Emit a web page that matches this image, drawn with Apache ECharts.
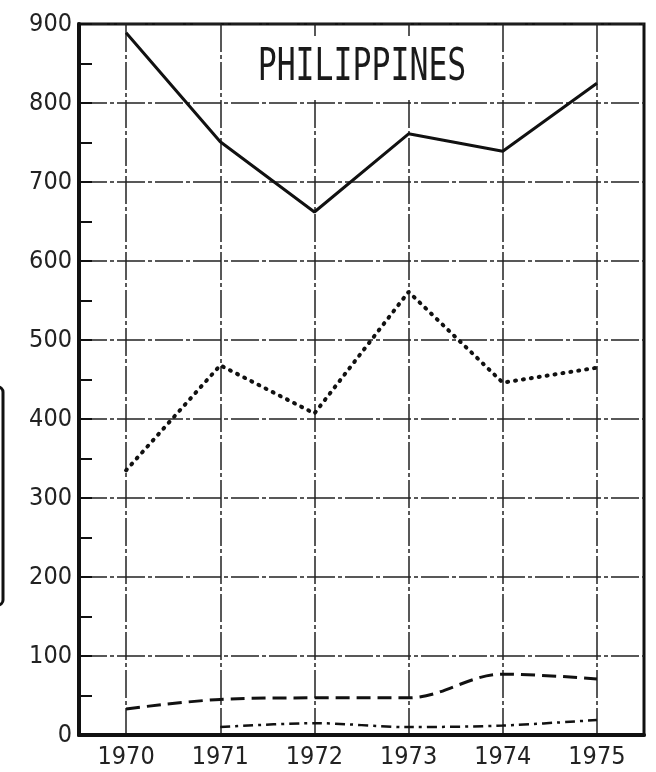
<!DOCTYPE html>
<html>
<head>
<meta charset="utf-8">
<script src="https://cdn.jsdelivr.net/npm/echarts@6/dist/echarts.min.js"></script>
<style>
html,body{margin:0;padding:0;background:#fff;}
#chart{width:656px;height:772px;}
</style>
</head>
<body>
<div id="chart"></div>
<script>
// Data
var years = [1970, 1971, 1972, 1973, 1974, 1975];
var solidSeries = [889, 751, 662, 761, 739, 825];
var dottedSeries = [335, 468, 407, 561, 446, 465];
var dashedSeries = [33, 45, 47, 47, 77, 71];
var dashDotSeries = [null, 10, 15, 10, 12, 19];
var yTicks = [0, 100, 200, 300, 400, 500, 600, 700, 800, 900];
var titleText = 'PHILIPPINES';

function pairs(vals) {
  var out = [];
  for (var i = 0; i < years.length; i++) {
    out.push([years[i], vals[i] == null ? null : vals[i]]);
  }
  return out.filter(function (p) { return p[1] !== null; });
}

var labelFont = "'Liberation Sans Narrow', 'DejaVu Sans Condensed', 'DejaVu Sans Mono', monospace";

var chart = echarts.init(document.getElementById('chart'));
chart.setOption({
  animation: false,
  backgroundColor: '#ffffff',
  grid: {
    left: 79, right: 12, top: 24, bottom: 37,
    show: true, borderColor: '#111', borderWidth: 3, backgroundColor: 'transparent'
  },
  xAxis: {
    type: 'value',
    min: years[0] - 0.5,
    max: years[years.length - 1] + 0.5,
    interval: 0.5,
    axisLine: { show: true, onZero: false, lineStyle: { color: '#111', width: 4 } },
    axisTick: { show: false },
    axisLabel: {
      color: '#222', fontSize: 25, fontFamily: labelFont, margin: 10,
      showMinLabel: false, showMaxLabel: false,
      formatter: function (v) { return (Math.abs(v - Math.round(v)) < 1e-6) ? String(Math.round(v)) : ''; }
    },
    splitLine: {
      show: true,
      lineStyle: { color: ['rgba(0,0,0,0)', '#222'], width: 1.5, type: [28, 3, 4, 3] }
    }
  },
  yAxis: {
    type: 'value',
    min: yTicks[0],
    max: yTicks[yTicks.length - 1],
    interval: 100,
    axisLine: { show: true, lineStyle: { color: '#111', width: 4 } },
    axisTick: { show: true, inside: true, length: 13, lineStyle: { color: '#111', width: 2 } },
    minorTick: { show: true, splitNumber: 2, length: 13, lineStyle: { color: '#111', width: 2 } },
    axisLabel: { color: '#222', fontSize: 25, fontFamily: labelFont, margin: 7 },
    splitLine: { show: true, lineStyle: { color: '#222', width: 1.5, type: [28, 3, 4, 3] } }
  },
  graphic: [
    {
      type: 'rect', z: 1,
      shape: { x: 235, y: 36, width: 255, height: 63 },
      style: { fill: '#ffffff' }
    },
    {
      type: 'text', z: 5, x: 362, y: 69, scaleY: 1.39,
      style: {
        text: titleText, fill: '#1a1a1a',
        font: "31.5px 'DejaVu Sans Mono', monospace",
        textAlign: 'center', textVerticalAlign: 'middle'
      }
    },
    {
      type: 'rect', z: 5,
      shape: { x: -30, y: 387, width: 33, height: 218, r: 5 },
      style: { fill: 'none', stroke: '#111', lineWidth: 3 }
    }
  ],
  series: [
    {
      type: 'line', data: pairs(solidSeries), symbol: 'none', z: 3,
      lineStyle: { color: '#111', width: 3, type: 'solid' }
    },
    {
      type: 'line', data: pairs(dottedSeries), symbol: 'none', z: 3,
      lineStyle: { color: '#111', width: 4, type: [1, 7], cap: 'round' }
    },
    {
      type: 'line', data: pairs(dashedSeries), symbol: 'none', z: 3, smooth: 0.35,
      lineStyle: { color: '#111', width: 3, type: [14, 7] }
    },
    {
      type: 'line', data: pairs(dashDotSeries), symbol: 'none', z: 3, smooth: 0.3,
      lineStyle: { color: '#111', width: 2.5, type: [10, 5, 3, 5] }
    }
  ]
});
</script>
</body>
</html>
